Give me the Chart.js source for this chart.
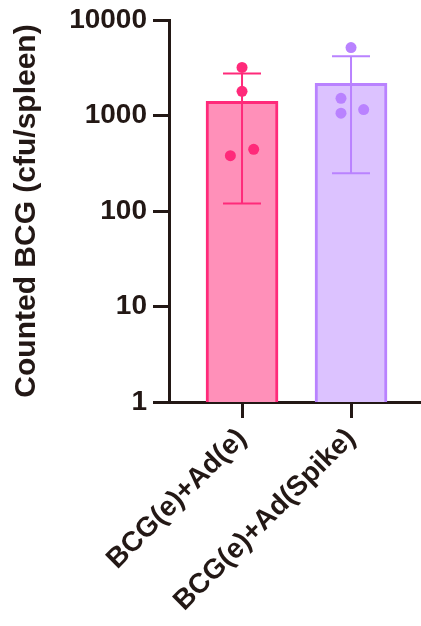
<!DOCTYPE html>
<html>
<head>
<meta charset="utf-8">
<script src="https://cdn.jsdelivr.net/npm/chart.js@4"></script>
<style>
html,body{margin:0;padding:0;background:#fff;}
#c{display:block;}
</style>
</head>
<body>
<canvas id="c" width="421" height="626"></canvas>
<script>
const categories = ["BCG(e)+Ad(e)", "BCG(e)+Ad(Spike)"];
const means = [1410, 2170];
const errLow = [120, 249];
const errHigh = [2760, 4180];
const pointsAdE = [3185, 1790, 380, 442];
const pointsAdSpike = [5145, 1514, 1057, 1155];
const jitterAdE = [0, 0, -0.107, 0.107];
const jitterAdSpike = [0, -0.092, -0.092, 0.116];
const yTicks = [1, 10, 100, 1000, 10000];

const borderColors = ["#FF2A7A", "#B982FF"];
const fillColors = ["#FF90B9", "#DCC2FF"];
const axisColor = "#231815";
const FONT = "'Liberation Sans', Arial, sans-serif";

const barData = categories.map((c, i) => ({x: i + 1, y: means[i]}));
const scatterData = [];
const scatterColors = [];
[pointsAdE, pointsAdSpike].forEach((arr, gi) => {
  const jit = gi === 0 ? jitterAdE : jitterAdSpike;
  arr.forEach((v, k) => {
    scatterData.push({x: gi + 1 + jit[k], y: v});
    scatterColors.push(borderColors[gi]);
  });
});

const errorBarPlugin = {
  id: 'errorBars',
  afterDatasetDraw(chart, args) {
    if (args.index !== 1) return;
    const ctx = chart.ctx;
    const xs = chart.scales.x, ys = chart.scales.y;
    categories.forEach((c, i) => {
      const x = xs.getPixelForValue(i + 1);
      const yl = ys.getPixelForValue(errLow[i]);
      const yh = ys.getPixelForValue(errHigh[i]);
      ctx.save();
      ctx.strokeStyle = borderColors[i];
      ctx.lineWidth = 2;
      ctx.beginPath();
      ctx.moveTo(x, yl); ctx.lineTo(x, yh);
      ctx.moveTo(x - 19, yl); ctx.lineTo(x + 19, yl);
      ctx.moveTo(x - 19, yh); ctx.lineTo(x + 19, yh);
      ctx.stroke();
      ctx.restore();
    });
  }
};

new Chart(document.getElementById('c'), {
  type: 'bar',
  data: {
    datasets: [
      {
        type: 'scatter',
        data: scatterData,
        pointBackgroundColor: scatterColors,
        pointBorderColor: scatterColors,
        pointRadius: 5.5,
        pointBorderWidth: 0,
        order: 0
      },
      {
        type: 'bar',
        data: barData,
        backgroundColor: fillColors,
        borderColor: borderColors,
        borderWidth: 3,
        borderSkipped: 'start',
        barThickness: 72,
        order: 1
      }
    ]
  },
  options: {
    responsive: false,
    animation: false,
    devicePixelRatio: 1,
    layout: {autoPadding: false, padding: {top: 20, right: 0, bottom: 0, left: 0}},
    plugins: {legend: {display: false}, tooltip: {enabled: false}},
    scales: {
      x: {
        type: 'linear',
        min: 0.33,
        max: 2.642,
        offset: false,
        grid: {drawOnChartArea: false, drawTicks: true, tickLength: 16, color: axisColor, lineWidth: 3, offset: false},
        border: {color: axisColor, width: 3},
        afterBuildTicks(scale) { scale.ticks = categories.map((c, i) => ({value: i + 1})); },
        afterFit(scale) { scale.height = 224; scale.paddingLeft = 0; scale.paddingRight = 0; },
        ticks: {
          autoSkip: false,
          minRotation: 45,
          maxRotation: 45,
          padding: 4,
          color: axisColor,
          font: {family: FONT, size: 28, weight: 'bold'},
          callback: (v) => categories[Math.round(v) - 1] || ''
        }
      },
      y: {
        type: 'logarithmic',
        min: 1,
        max: 10000,
        grid: {drawOnChartArea: false, drawTicks: true, tickLength: 16, color: axisColor, lineWidth: 3},
        border: {color: axisColor, width: 3},
        afterBuildTicks(scale) { scale.ticks = yTicks.map(v => ({value: v})); },
        afterFit(scale) { scale.width = 169; scale.paddingTop = 0; scale.paddingBottom = 0; },
        ticks: {
          padding: 6,
          color: axisColor,
          font: {family: FONT, size: 28, weight: 'bold'},
          callback: (v) => String(v)
        },
        title: {
          display: true,
          text: 'Counted BCG (cfu/spleen)',
          color: axisColor,
          font: {family: FONT, size: 30, weight: 'bold'},
          padding: {top: 9, bottom: 0}
        }
      }
    }
  },
  plugins: [errorBarPlugin]
});
</script>
</body>
</html>
